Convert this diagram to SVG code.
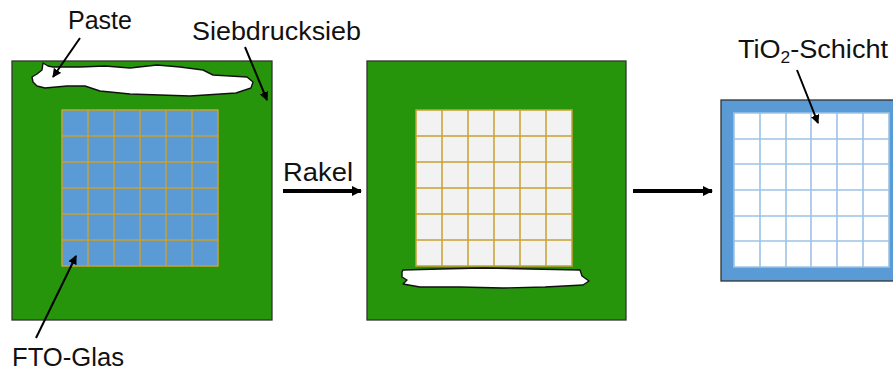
<svg xmlns="http://www.w3.org/2000/svg" width="893" height="372" viewBox="0 0 893 372">
<defs>
<style>
.lbl{font-family:"Liberation Sans",Arial,sans-serif;font-size:25px;fill:#111}
.screen{fill:#27950c;stroke:#333;stroke-width:1.3}
.gridO{stroke:#c9a132;stroke-width:1.5;fill:none}
.gridB{stroke:#9dc3e6;stroke-width:1.6;fill:none}
.paste{fill:#fff;stroke:#111;stroke-width:1.4;stroke-linejoin:round}
.thick{stroke:#000;stroke-width:4;fill:none}
.thin{stroke:#000;stroke-width:2;fill:none}
</style>
<marker id="big" markerWidth="10" markerHeight="10" refX="9" refY="5" orient="auto" markerUnits="userSpaceOnUse" viewBox="0 0 10 10">
<path d="M0,0 L10,5 L0,10 z" fill="#000"/>
</marker>
<marker id="small" markerWidth="9" markerHeight="9" refX="8" refY="4.5" orient="auto" markerUnits="userSpaceOnUse" viewBox="0 0 9 9">
<path d="M0,0 L9,4.5 L0,9 z" fill="#000"/>
</marker>
</defs>
<rect width="893" height="372" fill="#fff"/>

<g id="panel1">
<rect class="screen" x="12" y="61" width="260" height="259"/>
<rect x="62" y="110" width="156" height="156" fill="#5b9bd5"/>
<path class="gridO" d="M62,110H218V266H62Z M88,110V266 M114,110V266 M140,110V266 M166,110V266 M192,110V266 M62,136H218 M62,162H218 M62,188H218 M62,214H218 M62,240H218"/>
<path class="paste" d="M32,77 L37,74 L42,70 L43,63 L48,66 L53,67 L80,67 L105,66 L130,68 L157,65 L180,67 L203,70 L213,75 L247,77 L253,82 L251,88 L236,93 L190,96 L130,94 L100,91 L85,86 L67,86 L45,88 L37,86 L33,82 Z"/>
</g>

<g id="panel2">
<rect class="screen" x="367" y="61" width="259" height="259"/>
<rect x="416" y="110" width="156" height="156" fill="#f2f2f2"/>
<path class="gridO" d="M416,110H572V266H416Z M442,110V266 M468,110V266 M494,110V266 M520,110V266 M546,110V266 M416,136H572 M416,162H572 M416,188H572 M416,214H572 M416,240H572"/>
<path class="paste" d="M402,272 L403,270 L440,269 L483,268 L530,269 L580,270 L582,276 L589,281 L583,285 L545,287 L503,288 L460,287 L420,287 L403,284 L407,280 L402,277 Z"/>
</g>

<g id="panel3">
<rect x="721" y="100" width="182" height="181" fill="#5b9bd5" stroke="#333" stroke-width="1.3"/>
<rect x="734" y="113" width="155" height="154" fill="#fff"/>
<path class="gridB" d="M734,113H889V267H734Z M760,113V267 M786,113V267 M811,113V267 M837,113V267 M863,113V267 M734,139H889 M734,164H889 M734,190H889 M734,216H889 M734,241H889"/>
</g>

<g id="labels">
<text class="lbl" x="68" y="29" textLength="64" lengthAdjust="spacingAndGlyphs">Paste</text>
<text class="lbl" x="192" y="40" textLength="169" lengthAdjust="spacingAndGlyphs">Siebdrucksieb</text>
<text class="lbl" x="12" y="366" textLength="112" lengthAdjust="spacingAndGlyphs">FTO-Glas</text>
<text class="lbl" x="283" y="181" textLength="70" lengthAdjust="spacingAndGlyphs" style="font-size:26px">Rakel</text>
<text class="lbl" x="738" y="58" textLength="150" lengthAdjust="spacingAndGlyphs">TiO<tspan dy="5" style="font-size:16px">2</tspan><tspan dy="-5">-Schicht</tspan></text>
</g>

<g id="connectors">
<line class="thick" x1="283" y1="191" x2="361" y2="191" marker-end="url(#big)"/>
<line class="thick" x1="633" y1="191" x2="712" y2="191" marker-end="url(#big)"/>
<line class="thin" x1="80" y1="38" x2="53" y2="77" marker-end="url(#small)"/>
<line class="thin" x1="245" y1="47" x2="267" y2="100" marker-end="url(#small)"/>
<line class="thin" x1="36" y1="338" x2="76" y2="256" marker-end="url(#small)"/>
<line class="thin" x1="797" y1="70" x2="818" y2="123" marker-end="url(#small)"/>
</g>
</svg>
